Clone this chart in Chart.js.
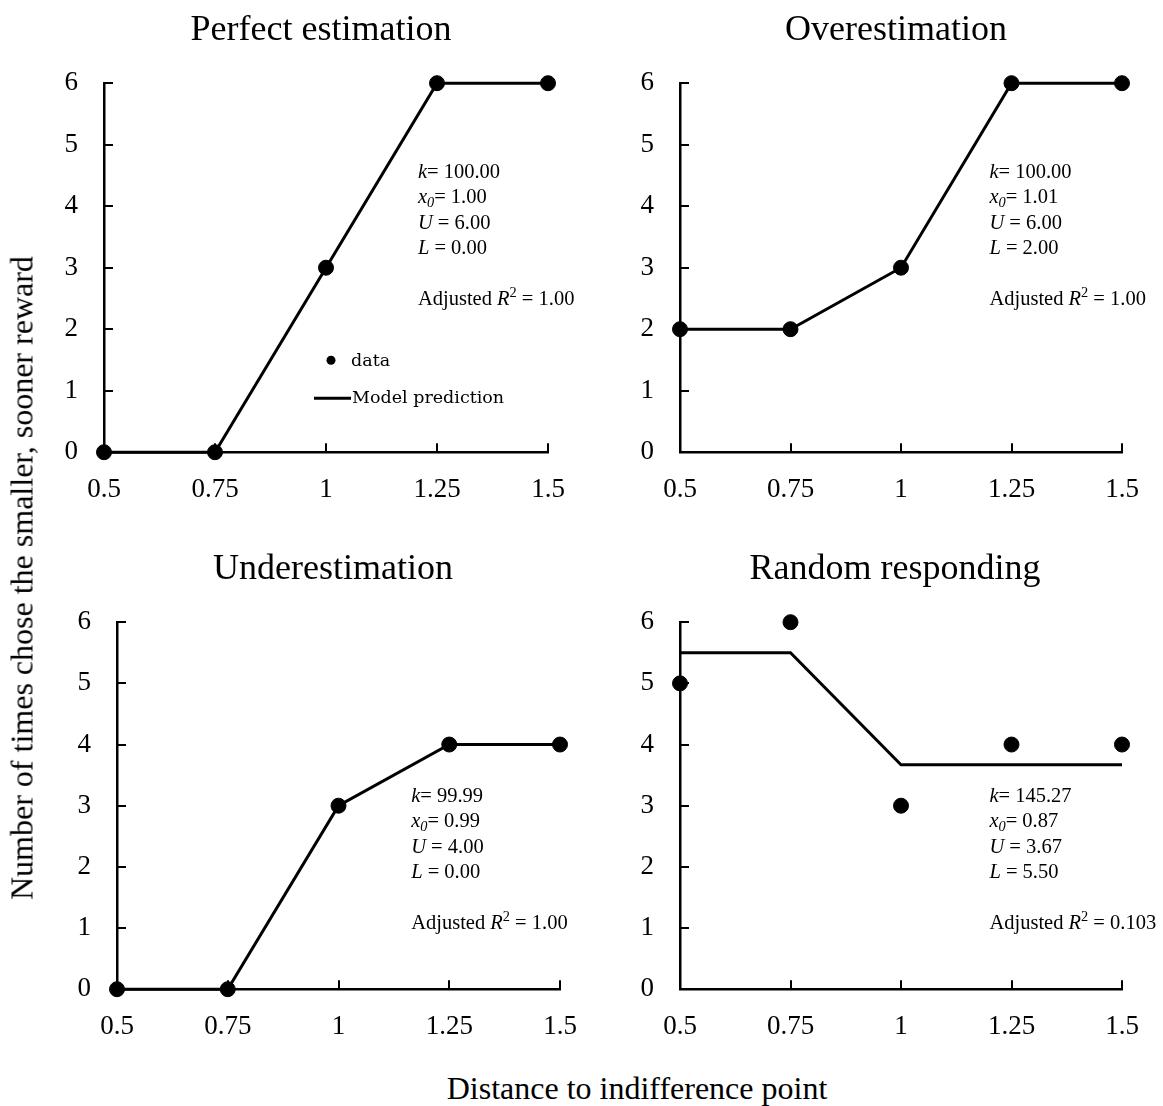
<!DOCTYPE html>
<html>
<head>
<meta charset="utf-8">
<script src="https://cdn.jsdelivr.net/npm/chart.js@4/dist/chart.umd.min.js"></script>
<style>
  body { margin: 0; background: #fff; overflow: hidden; }
  #wrap { position: relative; width: 1163px; height: 1106px; font-family: "Liberation Serif", serif; color: #000; }
  canvas { position: absolute; }
  .lbl { position: absolute; white-space: nowrap; transform: translate(-50%, -50%); }
  .ttl { font-size: 36px; }
  .axt { font-size: 32px; }
</style>
</head>
<body>
<div id="wrap">
  <canvas id="c1"></canvas>
  <canvas id="c2"></canvas>
  <canvas id="c3"></canvas>
  <canvas id="c4"></canvas>
  <div class="lbl ttl" style="left:321px; top:28px;">Perfect estimation</div>
  <div class="lbl ttl" style="left:896px; top:28px;">Overestimation</div>
  <div class="lbl ttl" style="left:333px; top:567px;">Underestimation</div>
  <div class="lbl ttl" style="left:895px; top:567px;">Random responding</div>
  <div class="lbl axt" style="left:22px; top:578px; transform: translate(-50%, -50%) rotate(-90deg);">Number of times chose the smaller, sooner reward</div>
  <div class="lbl axt" style="left:637px; top:1088px;">Distance to indifference point</div>
</div>
<script>
// x positions and tick labels
const xValues = [0.5, 0.75, 1, 1.25, 1.5];
const xTickLabels = ['0.5', '0.75', '1', '1.25', '1.5'];
const yTickValues = [0, 1, 2, 3, 4, 5, 6];

// observed choices
const perfectData = [0, 0, 3, 6, 6];
const overData = [2, 2, 3, 6, 6];
const underData = [0, 0, 3, 4, 4];
const randomData = [5, 6, 3, 4, 4];

// model predictions
const perfectModel = [0, 0, 3, 6, 6];
const overModel = [2, 2, 3, 6, 6];
const underModel = [0, 0, 3, 4, 4];
const randomModel = [5.5, 5.5, 3.67, 3.67, 3.67];

// fitted parameters: k, x0, U, L, adjusted R2
const perfectParams = ['100.00', '1.00', '6.00', '0.00', '1.00'];
const overParams = ['100.00', '1.01', '6.00', '2.00', '1.00'];
const underParams = ['99.99', '0.99', '4.00', '0.00', '1.00'];
const randomParams = ['145.27', '0.87', '3.67', '5.50', '0.103'];

const serif = '"Liberation Serif"';
Chart.defaults.font.family = serif;
Chart.defaults.color = '#000';

// tick marks pointing into the plot
const innerTicks = {
    id: 'innerTicks',
    afterDraw(chart) {
        const ctx = chart.ctx;
        const xs = chart.scales.x, ys = chart.scales.y;
        const a = chart.chartArea;
        ctx.save();
        ctx.strokeStyle = '#000';
        ctx.lineWidth = 2;
        ys.ticks.forEach(t => {
            const py = Math.round(ys.getPixelForValue(t.value));
            ctx.beginPath();
            ctx.moveTo(a.left, py);
            ctx.lineTo(a.left + 9, py);
            ctx.stroke();
        });
        xs.ticks.forEach(t => {
            const px = Math.round(xs.getPixelForValue(t.value));
            ctx.beginPath();
            ctx.moveTo(px, a.bottom);
            ctx.lineTo(px, a.bottom - 9);
            ctx.stroke();
        });
        ctx.restore();
    }
};

// draw a line made of [text, italic, subscript, superscript] pieces
function drawPieces(ctx, x, y, pieces, size) {
    pieces.forEach(p => {
        const sz = (p[2] || p[3]) ? size * 0.7 : size;
        ctx.font = (p[1] ? 'italic ' : '') + sz + 'px ' + serif;
        let dy = 0;
        if (p[2]) dy = size * 0.25;
        if (p[3]) dy = -size * 0.3;
        ctx.fillText(p[0], x, y + dy);
        x += ctx.measureText(p[0]).width;
    });
}

const paramText = {
    id: 'paramText',
    afterDraw(chart, args, opts) {
        const ctx = chart.ctx;
        const a = chart.chartArea;
        const v = opts.values;
        const x = a.left + opts.fx * (a.right - a.left);
        let y = a.top + opts.fy * (a.bottom - a.top);
        const size = 20.5, lh = 25.5;
        ctx.save();
        ctx.fillStyle = '#000';
        ctx.textBaseline = 'middle';
        drawPieces(ctx, x, y, [['k', true], ['= ' + v[0]]], size); y += lh;
        drawPieces(ctx, x, y, [['x', true], ['0', true, true], ['= ' + v[1]]], size); y += lh;
        drawPieces(ctx, x, y, [['U', true], [' = ' + v[2]]], size); y += lh;
        drawPieces(ctx, x, y, [['L', true], [' = ' + v[3]]], size); y += lh * 2;
        drawPieces(ctx, x, y, [['Adjusted '], ['R', true], ['2', false, false, true], [' = ' + v[4]]], size);
        ctx.restore();
    }
};

// small legend inside the first panel
const innerLegend = {
    id: 'innerLegend',
    afterDraw(chart, args, opts) {
        if (!opts.show) return;
        const ctx = chart.ctx;
        const a = chart.chartArea;
        const x = a.left + 227, y = a.top + 277;
        ctx.save();
        ctx.fillStyle = '#000';
        ctx.strokeStyle = '#000';
        ctx.beginPath();
        ctx.arc(x, y, 4.5, 0, Math.PI * 2);
        ctx.fill();
        ctx.font = '17.5px "DejaVu Serif"';
        ctx.textBaseline = 'middle';
        ctx.fillText(chart.data.datasets[0].label, x + 20, y + 1);
        ctx.lineWidth = 3;
        ctx.beginPath();
        ctx.moveTo(x - 17, y + 38);
        ctx.lineTo(x + 20, y + 38);
        ctx.stroke();
        ctx.fillText(chart.data.datasets[1].label, x + 21, y + 38);
        ctx.restore();
    }
};

function makePanel(id, box, points, model, params, fx, fy, legend) {
    const padL = 90, padT = 20, padR = 40, padB = 60;
    const cv = document.getElementById(id);
    let w = box.right - box.left + padL + padR;
    let h = box.bottom - box.top + padT + padB;
    cv.width = w; cv.height = h;
    let left = box.left - padL, top = box.top - padT;
    cv.style.left = left + 'px';
    cv.style.top = top + 'px';

    const chart = new Chart(cv.getContext('2d'), {
        type: 'scatter',
        data: {
            datasets: [{
                label: 'data',
                data: xValues.map((x, i) => ({ x: x, y: points[i] })),
                backgroundColor: '#000',
                borderColor: '#000',
                pointRadius: 7.5,
                pointHoverRadius: 7.5,
                clip: false
            }, {
                label: 'Model prediction',
                data: xValues.map((x, i) => ({ x: x, y: model[i] })),
                showLine: true,
                borderColor: '#000',
                borderWidth: 3,
                pointRadius: 0,
                pointHoverRadius: 0,
                tension: 0,
                clip: false
            }]
        },
        options: {
            responsive: false,
            maintainAspectRatio: false,
            animation: false,
            devicePixelRatio: 1,
            layout: { padding: { left: 0, top: padT, right: padR, bottom: 0 } },
            plugins: {
                legend: { display: false },
                tooltip: { enabled: false },
                paramText: { values: params, fx: fx, fy: fy },
                innerLegend: { show: legend }
            },
            scales: {
                x: {
                    type: 'linear',
                    min: 0.5,
                    max: 1.5,
                    afterBuildTicks: s => { s.ticks = xValues.map(v => ({ value: v })); },
                    afterFit: s => { s.height = padB; },
                    ticks: {
                        padding: 22,
                        color: '#000',
                        font: { family: serif, size: 27 },
                        maxRotation: 0,
                        callback: v => xTickLabels[xValues.indexOf(v)]
                    },
                    grid: { display: false, drawTicks: false },
                    border: { display: true, color: '#000', width: 2.5 }
                },
                y: {
                    min: 0,
                    max: 6,
                    afterBuildTicks: s => { s.ticks = yTickValues.map(v => ({ value: v })); },
                    afterFit: s => { s.width = padL; },
                    ticks: {
                        padding: 26,
                        color: '#000',
                        font: { family: serif, size: 27 },
                        callback: v => String(v)
                    },
                    grid: { display: false, drawTicks: false },
                    border: { display: true, color: '#000', width: 2.5 }
                }
            }
        },
        plugins: [innerTicks, paramText, innerLegend]
    });

    // nudge the canvas so the plot area lands where the reference has it
    const a = chart.chartArea;
    const dL = a.left - padL, dT = a.top - padT;
    const dR = (w - a.right) - padR, dB = (h - a.bottom) - padB;
    if (dL || dT || dR || dB) {
        left -= dL; top -= dT;
        w += dL + dR; h += dT + dB;
        cv.style.left = left + 'px';
        cv.style.top = top + 'px';
        chart.resize(w, h);
    }
    return chart;
}

makePanel('c1', { left: 104, right: 548, top: 83, bottom: 452 }, perfectData, perfectModel, perfectParams, 0.707, 0.241, true);
makePanel('c2', { left: 680, right: 1122, top: 83, bottom: 452 }, overData, overModel, overParams, 0.70, 0.241, false);
makePanel('c3', { left: 117, right: 560, top: 622, bottom: 989 }, underData, underModel, underParams, 0.664, 0.474, false);
makePanel('c4', { left: 680, right: 1122, top: 622, bottom: 989 }, randomData, randomModel, randomParams, 0.70, 0.474, false);
</script>
</body>
</html>
